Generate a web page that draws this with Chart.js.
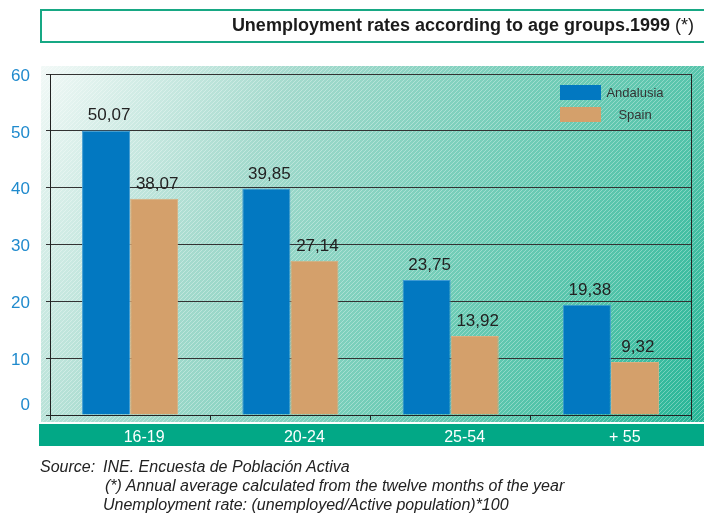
<!DOCTYPE html>
<html>
<head>
<meta charset="utf-8">
<script src="https://cdn.jsdelivr.net/npm/chart.js@4/dist/chart.umd.min.js"></script>
<style>
  html, body { margin: 0; padding: 0; background: #fff; overflow: hidden; }
  #wrap { position: relative; width: 704px; height: 515px; font-family: "Liberation Sans", Arial, sans-serif; }
  #chart { position: absolute; left: 0; top: 0; }
  #titleBox { position: absolute; left: 40px; top: 9px; width: 700px; height: 30px; border: 2px solid #17a884; }
  #titleText { position: absolute; right: 10px; top: 15px; font-size: 18px; color: #1b1b1b; white-space: nowrap; }
  #titleText b { font-weight: bold; }
  .note { position: absolute; font-style: italic; font-size: 16px; color: #222; white-space: nowrap; }
</style>
</head>
<body>
<div id="wrap">
  <canvas id="chart" width="704" height="515"></canvas>
  <div id="titleBox"></div>
  <div id="titleText"><b>Unemployment rates according to age groups.1999</b> (*)</div>
  <div class="note" style="left:40px; top:458px;">Source:</div>
  <div class="note" style="left:103px; top:458px;">INE. Encuesta de Población Activa</div>
  <div class="note" style="left:105px; top:477px;">(*) Annual average calculated from the twelve months of the year</div>
  <div class="note" style="left:103px; top:496px;">Unemployment rate: (unemployed/Active population)*100</div>
</div>
<script>
// unemployment rates (%) by age group, 1999
const ageGroups = ["16-19", "20-24", "25-54", "+ 55"];
const andalusiaRates = [50.07, 39.85, 23.75, 19.38];
const spainRates = [38.07, 27.14, 13.92, 9.32];
const seriesNames = ["Andalusia", "Spain"];
const yTickValues = [0, 10, 20, 30, 40, 50, 60];

const blue = "#0278c1";
const tan = "#d4a06b";
const fontFamily = "'Liberation Sans', Arial, sans-serif";

// diagonal hatch used over the plot background
function makeHatch(ctx) {
  const c = document.createElement("canvas");
  c.width = 4; c.height = 4;
  const p = c.getContext("2d");
  p.strokeStyle = "rgba(255,255,255,0.32)";
  p.lineWidth = 1;
  p.beginPath();
  p.moveTo(0, 4); p.lineTo(4, 0);
  p.moveTo(-1, 1); p.lineTo(1, -1);
  p.moveTo(3, 5); p.lineTo(5, 3);
  p.stroke();
  return ctx.createPattern(c, "repeat");
}

const backdrop = {
  id: "backdrop",
  beforeDraw(chart) {
    const ctx = chart.ctx;
    ctx.save();
    const g = ctx.createLinearGradient(41, 66, 704, 422);
    g.addColorStop(0, "#f2f9f7");
    g.addColorStop(0.3, "#a4dacd");
    g.addColorStop(0.55, "#7acfbb");
    g.addColorStop(0.8, "#52c3a9");
    g.addColorStop(1, "#25b596");
    ctx.fillStyle = g;
    ctx.fillRect(41, 66, 663, 356);
    ctx.fillStyle = makeHatch(ctx);
    ctx.fillRect(41, 66, 663, 356);
    // green band under the x axis
    ctx.fillStyle = "#02a886";
    ctx.fillRect(39, 424, 665, 22);
    ctx.restore();
  },
  afterDatasetsDraw(chart) {
    const ctx = chart.ctx;
    const area = chart.chartArea;
    const yScale = chart.scales.y;
    ctx.save();
    // right frame line
    ctx.strokeStyle = "#222";
    ctx.lineWidth = 1;
    ctx.beginPath();
    ctx.moveTo(Math.round(area.right) + 0.5, area.top);
    ctx.lineTo(Math.round(area.right) + 0.5, area.bottom + 5);
    ctx.stroke();

    // y tick labels, the zero sits a little above the axis
    ctx.font = "17px " + fontFamily;
    ctx.fillStyle = "#1f8acd";
    ctx.textAlign = "right";
    ctx.textBaseline = "middle";
    yTickValues.forEach((v) => {
      const y = yScale.getPixelForValue(v) + (v === 0 ? -10 : 2);
      ctx.fillText(String(v), 30, y);
    });

    // value labels above each bar
    ctx.font = "17px " + fontFamily;
    ctx.fillStyle = "#222";
    ctx.textAlign = "center";
    ctx.textBaseline = "alphabetic";
    chart.data.datasets.forEach((ds, i) => {
      chart.getDatasetMeta(i).data.forEach((bar, j) => {
        const txt = ds.data[j].toFixed(2).replace(".", ",");
        ctx.fillText(txt, bar.x + 3, bar.y - 10);
      });
    });

    // legend
    ctx.font = "13px " + fontFamily;
    chart.data.datasets.forEach((ds, i) => {
      const y = 85 + i * 22;
      ctx.fillStyle = ds.backgroundColor;
      ctx.fillRect(560, y, 41, 15);
      ctx.fillStyle = "#333";
      ctx.textBaseline = "middle";
      ctx.fillText(ds.label, 635, y + 8);
    });
    ctx.restore();
  }
};

new Chart(document.getElementById("chart"), {
  type: "bar",
  data: {
    labels: ageGroups,
    datasets: [
      { label: seriesNames[0], data: andalusiaRates, backgroundColor: blue, borderColor: "#3f9bd4", borderWidth: 1,
        categoryPercentage: 0.6, barPercentage: 1.0 },
      { label: seriesNames[1], data: spainRates, backgroundColor: tan, borderColor: "#dcae7e", borderWidth: 1,
        categoryPercentage: 0.6, barPercentage: 1.0 }
    ]
  },
  options: {
    responsive: false,
    animation: false,
    layout: { padding: { top: 74, right: 13, left: 0, bottom: 0 } },
    plugins: {
      legend: { display: false },
      tooltip: { enabled: false },
      title: { display: false }
    },
    scales: {
      x: {
        grid: { display: true, drawOnChartArea: false, drawTicks: true, tickLength: 5, color: "#222", offset: true },
        border: { display: true, color: "#222", width: 1 },
        ticks: { color: "#ffffff", font: { size: 16, family: fontFamily }, padding: 8, labelOffset: 14 },
        afterFit(scale) { scale.height = 100; }
      },
      y: {
        min: yTickValues[0],
        max: yTickValues[yTickValues.length - 1],
        grid: { color: "#333", lineWidth: 1, tickLength: 4 },
        border: { display: true, color: "#222", width: 1 },
        ticks: { stepSize: 10, display: false },
        afterFit(scale) { scale.width = 50; }
      }
    }
  },
  plugins: [backdrop]
});
</script>
</body>
</html>
